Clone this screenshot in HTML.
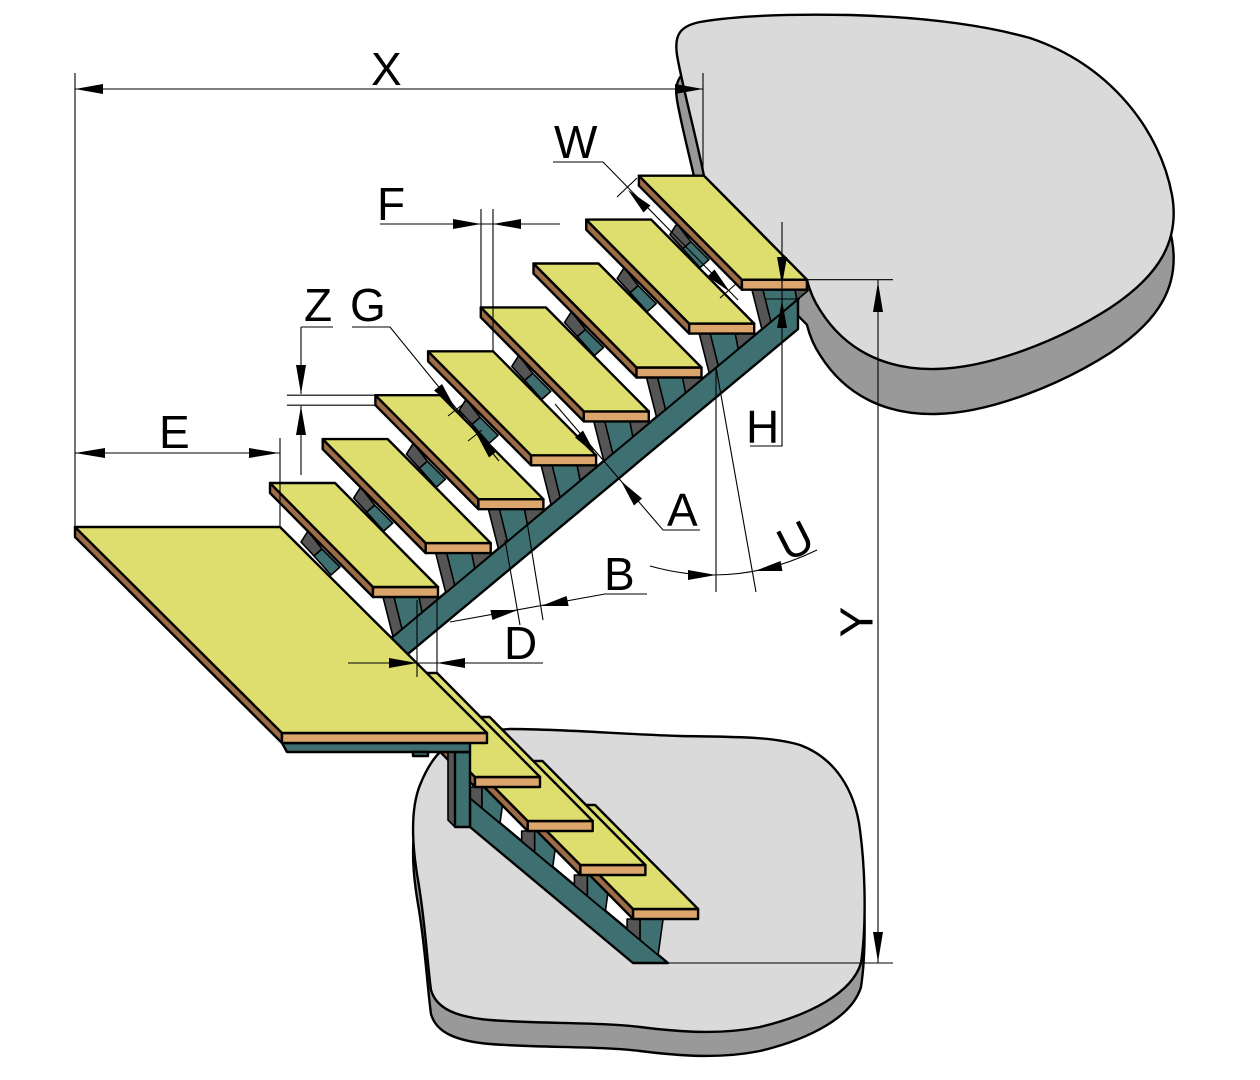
<!DOCTYPE html>
<html>
<head>
<meta charset="utf-8">
<style>
html,body{margin:0;padding:0;background:#fff;}
svg{display:block;}
.sd{fill:#9b6c46;stroke:#000;stroke-width:2.4;stroke-linejoin:round;}
.fr{fill:#dca56c;stroke:#000;stroke-width:2.4;stroke-linejoin:round;}
.tp{fill:#dede6f;stroke:#000;stroke-width:2.4;stroke-linejoin:round;}
.dk{fill:#555555;stroke:#000;stroke-width:1.6;stroke-linejoin:round;}
.tl{fill:#3e7071;stroke:#000;stroke-width:1.6;stroke-linejoin:round;}
.bm{fill:#3e7071;stroke:#000;stroke-width:2.4;stroke-linejoin:round;}
.lg{fill:#dadada;stroke:#000;stroke-width:2.4;stroke-linejoin:round;}
.mg{fill:#999999;stroke:#000;stroke-width:2.4;stroke-linejoin:round;}
.wh{fill:#ffffff;stroke:none;}
.dl{fill:none;stroke:#000;stroke-width:1.1;}
.ar{fill:#000;stroke:none;}
.lb{font-family:"Liberation Sans",Arial,sans-serif;font-size:46px;fill:#000;}
</style>
</head>
<body>
<svg width="1260" height="1080" viewBox="0 0 1260 1080" xmlns="http://www.w3.org/2000/svg">

<!-- Upper landing (floor) -->
<g transform="translate(0,45)">
<path class="mg" d="M703.9,175.7 C697,140 682,85 677,55 C674,35 680,26 700,22 C740,15 800,14 850,15 C920,17 980,24 1030,38 C1110,65 1160,130 1172,195 C1180,240 1160,275 1110,308 C1060,340 990,368 936,369 C885,370 845,350 820,310 C812,298 809,288 806.9,279.7 Z"/>
</g>
<path class="lg" d="M703.9,175.7 C697,140 682,85 677,55 C674,35 680,26 700,22 C740,15 800,14 850,15 C920,17 980,24 1030,38 C1110,65 1160,130 1172,195 C1180,240 1160,275 1110,308 C1060,340 990,368 936,369 C885,370 845,350 820,310 C812,298 809,288 806.9,279.7 Z"/>

<!-- Lower floor -->
<g transform="translate(0,24)">
<path class="mg" d="M440,752 C455,738 480,730 510,729 C560,729 620,734 680,736 C730,737 770,736 800,745 C835,758 855,790 860,830 C866,875 866,930 861,963 C852,993 810,1015 760,1027 C720,1035 680,1032 640,1027 C600,1022 540,1024 490,1020 C455,1017 436,1008 431,990 C427,960 425,920 418,880 C412,845 410,810 420,785 C426,770 432,760 440,752 Z"/>
</g>
<path class="lg" d="M440,752 C455,738 480,730 510,729 C560,729 620,734 680,736 C730,737 770,736 800,745 C835,758 855,790 860,830 C866,875 866,930 861,963 C852,993 810,1015 760,1027 C720,1035 680,1032 640,1027 C600,1022 540,1024 490,1020 C455,1017 436,1008 431,990 C427,960 425,920 418,880 C412,845 410,810 420,785 C426,770 432,760 440,752 Z"/>

<!-- Upper beam -->
<polygon class="bm" points="370,655.6 798,299.1 798,329.1 370,685.6"/>

<!-- Upper posts and brackets -->
<g transform="translate(0,0)">
<polygon class="dk" points="383,597 439,597 439,598 393,636.5"/><polygon class="tl" points="394,597 419,597 422,612.3 402,629"/>
<polygon class="dk" points="301,542 308,531 322,549 314,556"/><polygon class="tl" points="314,556 322,549 340,567 331,575"/>
</g>
<g transform="translate(52.7,-43.9)">
<polygon class="dk" points="383,597 439,597 439,598 393,636.5"/><polygon class="tl" points="394,597 419,597 422,612.3 402,629"/>
<polygon class="dk" points="301,542 308,531 322,549 314,556"/><polygon class="tl" points="314,556 322,549 340,567 331,575"/>
</g>
<g transform="translate(105.4,-87.8)">
<polygon class="dk" points="383,597 439,597 439,598 393,636.5"/><polygon class="tl" points="394,597 419,597 422,612.3 402,629"/>
<polygon class="dk" points="301,542 308,531 322,549 314,556"/><polygon class="tl" points="314,556 322,549 340,567 331,575"/>
</g>
<g transform="translate(158.1,-131.7)">
<polygon class="dk" points="383,597 439,597 439,598 393,636.5"/><polygon class="tl" points="394,597 419,597 422,612.3 402,629"/>
<polygon class="dk" points="301,542 308,531 322,549 314,556"/><polygon class="tl" points="314,556 322,549 340,567 331,575"/>
</g>
<g transform="translate(210.8,-175.6)">
<polygon class="dk" points="383,597 439,597 439,598 393,636.5"/><polygon class="tl" points="394,597 419,597 422,612.3 402,629"/>
<polygon class="dk" points="301,542 308,531 322,549 314,556"/><polygon class="tl" points="314,556 322,549 340,567 331,575"/>
</g>
<g transform="translate(263.5,-219.5)">
<polygon class="dk" points="383,597 439,597 439,598 393,636.5"/><polygon class="tl" points="394,597 419,597 422,612.3 402,629"/>
<polygon class="dk" points="301,542 308,531 322,549 314,556"/><polygon class="tl" points="314,556 322,549 340,567 331,575"/>
</g>
<g transform="translate(316.2,-263.4)">
<polygon class="dk" points="383,597 439,597 439,598 393,636.5"/><polygon class="tl" points="394,597 419,597 422,612.3 402,629"/>
<polygon class="dk" points="301,542 308,531 322,549 314,556"/><polygon class="tl" points="314,556 322,549 340,567 331,575"/>
</g>
<g transform="translate(368.9,-307.3)">
<polygon class="dk" points="383,597 439,597 439,598 393,636.5"/><polygon class="tl" points="394,597 426,597 428,607 402,629"/>
<polygon class="dk" points="301,542 308,531 322,549 314,556"/><polygon class="tl" points="314,556 322,549 340,567 331,575"/>
</g>

<!-- Upper treads -->
<g transform="translate(0,0)"><polygon class="sd" points="270,483 373,587 373,597 270,493"/><polygon class="fr" points="373,587 438,587 438,597 373,597"/><polygon class="tp" points="270,483 335,483 438,587 373,587"/></g>
<g transform="translate(52.7,-43.9)"><polygon class="sd" points="270,483 373,587 373,597 270,493"/><polygon class="fr" points="373,587 438,587 438,597 373,597"/><polygon class="tp" points="270,483 335,483 438,587 373,587"/></g>
<g transform="translate(105.4,-87.8)"><polygon class="sd" points="270,483 373,587 373,597 270,493"/><polygon class="fr" points="373,587 438,587 438,597 373,597"/><polygon class="tp" points="270,483 335,483 438,587 373,587"/></g>
<g transform="translate(158.1,-131.7)"><polygon class="sd" points="270,483 373,587 373,597 270,493"/><polygon class="fr" points="373,587 438,587 438,597 373,597"/><polygon class="tp" points="270,483 335,483 438,587 373,587"/></g>
<g transform="translate(210.8,-175.6)"><polygon class="sd" points="270,483 373,587 373,597 270,493"/><polygon class="fr" points="373,587 438,587 438,597 373,597"/><polygon class="tp" points="270,483 335,483 438,587 373,587"/></g>
<g transform="translate(263.5,-219.5)"><polygon class="sd" points="270,483 373,587 373,597 270,493"/><polygon class="fr" points="373,587 438,587 438,597 373,597"/><polygon class="tp" points="270,483 335,483 438,587 373,587"/></g>
<g transform="translate(316.2,-263.4)"><polygon class="sd" points="270,483 373,587 373,597 270,493"/><polygon class="fr" points="373,587 438,587 438,597 373,597"/><polygon class="tp" points="270,483 335,483 438,587 373,587"/></g>
<g transform="translate(368.9,-307.3)"><polygon class="sd" points="270,483 373,587 373,597 270,493"/><polygon class="fr" points="373,587 438,587 438,597 373,597"/><polygon class="tp" points="270,483 335,483 438,587 373,587"/></g>

<!-- Lower flight -->
<polygon class="wh" points="470,766 635,903.5 635,935.5 470,798"/>
<polygon class="bm" points="470,798 668,963 633,963 470,827"/>
<g transform="translate(0,0)"><polygon class="dk" points="469,787 482,787 482,808 469,797.2"/><polygon class="tl" points="482,787 505,787 500,823 482,808"/></g>
<g transform="translate(52.7,44)"><polygon class="dk" points="469,787 482,787 482,808 469,797.2"/><polygon class="tl" points="482,787 505,787 500,823 482,808"/></g>
<g transform="translate(105.4,88)"><polygon class="dk" points="469,787 482,787 482,808 469,797.2"/><polygon class="tl" points="482,787 505,787 500,823 482,808"/></g>
<g transform="translate(158.1,132)"><polygon class="dk" points="469,787 482,787 482,808 469,797.2"/><polygon class="tl" points="482,787 505,787 500,823 482,808"/></g>

<g transform="translate(158.1,132)"><polygon class="sd" points="372,673 475,777 475,787 372,683"/><polygon class="fr" points="475,777 540,777 540,787 475,787"/><polygon class="tp" points="372,673 437,673 540,777 475,777"/></g>
<g transform="translate(105.4,88)"><polygon class="sd" points="372,673 475,777 475,787 372,683"/><polygon class="fr" points="475,777 540,777 540,787 475,787"/><polygon class="tp" points="372,673 437,673 540,777 475,777"/></g>
<g transform="translate(52.7,44)"><polygon class="sd" points="372,673 475,777 475,787 372,683"/><polygon class="fr" points="475,777 540,777 540,787 475,787"/><polygon class="tp" points="372,673 437,673 540,777 475,777"/></g>
<g transform="translate(0,0)"><polygon class="sd" points="372,673 475,777 475,787 372,683"/><polygon class="fr" points="475,777 540,777 540,787 475,787"/><polygon class="tp" points="372,673 437,673 540,777 475,777"/></g>

<!-- vertical post under landing -->
<polygon class="dk" points="448,752 455,752 455,827 448,820"/>
<polygon class="bm" points="455,752 470,752 470,827 455,827"/>

<!-- Landing -->
<polygon class="sd" points="75,527 282,733 282,743 75,537"/>
<polygon class="bm" points="282,743 470,743 470,752 287,752"/>
<polygon class="bm" points="413,752 428,752 428,756 413,756"/>
<polygon class="fr" points="282,733 487,733 487,743 282,743"/>
<polygon class="tp" points="75,527 280,527 487,733 282,733"/>

<!-- Dimension lines -->
<path class="dl" d="M75,73 V527 M703,73 V176 M75,89 H703"/>
<path class="dl" d="M75,453 H280 M280,438 V527"/>
<path class="dl" d="M380,224 H560 M481,209 V307 M493,209 V351"/>
<path class="dl" d="M301,327 H333 M301,327 V394 M301,406 V475 M287,395.2 H375 M287,405.2 H375"/>
<path class="dl" d="M352,327 H390 L499,461 M448,416 L462,405 M468,441 L482,430"/>
<path class="dl" d="M553,162 H603 L738,300 M617,197 L637,178 M720,298 L737,283"/>
<path class="dl" d="M782,222 V446 H750 M766,299 H800"/>
<path class="dl" d="M878,280 V963 M807,279.7 H893 M668,963 H893"/>
<path class="dl" d="M555,404 L663,530 H700"/>
<path class="dl" d="M647,594 H605 L450,622 M505,540 L520,625 M527,522 L543,620"/>
<path class="dl" d="M348,663 H543 M417,600 V677 M437,597 V673"/>
<path class="dl" d="M716,367 V592 M716,367 L756,592 M650,566 Q735,590 817,550"/>

<!-- Arrowheads -->
<polygon class="ar" points="75,89 103,84 103,94"/>
<polygon class="ar" points="703,89 675,84 675,94"/>
<polygon class="ar" points="75,453 105,448 105,458"/>
<polygon class="ar" points="279,453 249,448 249,458"/>
<polygon class="ar" points="481,224 453,219 453,229"/>
<polygon class="ar" points="493,224 521,219 521,229"/>
<polygon class="ar" points="301,394 296,365 306,365"/>
<polygon class="ar" points="301,406 296,435 306,435"/>
<polygon class="ar" points="455,408 434,390.5 442,384"/>
<polygon class="ar" points="476,433 489,457.5 497,451"/>
<polygon class="ar" points="628,190 650.5,205.5 643.5,212.5"/>
<polygon class="ar" points="730,292 707.5,276.5 714.5,269.5"/>
<polygon class="ar" points="782,285 777,257 787,257"/>
<polygon class="ar" points="782,300 777,328 787,328"/>
<polygon class="ar" points="878,282 873,312 883,312"/>
<polygon class="ar" points="878,962 873,932 883,932"/>
<polygon class="ar" points="596,455 575,437.5 583,430.5"/>
<polygon class="ar" points="621,481 642,498.5 634,505.5"/>
<polygon class="ar" points="541,606 566.6,596 568.6,606"/>
<polygon class="ar" points="518,610 492.4,620 490.4,610"/>
<polygon class="ar" points="417,663 389,658 389,668"/>
<polygon class="ar" points="437,663 465,658 465,668"/>
<polygon class="ar" points="716,575 688,570 688,580"/>
<polygon class="ar" points="755,571 780.5,561 782.5,571"/>

<!-- Labels -->
<text class="lb" x="371" y="85">X</text>
<text class="lb" x="554" y="158">W</text>
<text class="lb" x="377" y="220">F</text>
<text class="lb" x="304" y="321">Z</text>
<text class="lb" x="350" y="321">G</text>
<text class="lb" x="159" y="448">E</text>
<text class="lb" x="746" y="443">H</text>
<text class="lb" x="667" y="526">A</text>
<text class="lb" x="604" y="590">B</text>
<text class="lb" x="504" y="659">D</text>
<text class="lb" x="795" y="556.5" text-anchor="middle" transform="rotate(-27 795 540)">U</text>
<text class="lb" x="856" y="638.5" text-anchor="middle" transform="rotate(-90 856 622)">Y</text>

</svg>
</body>
</html>
